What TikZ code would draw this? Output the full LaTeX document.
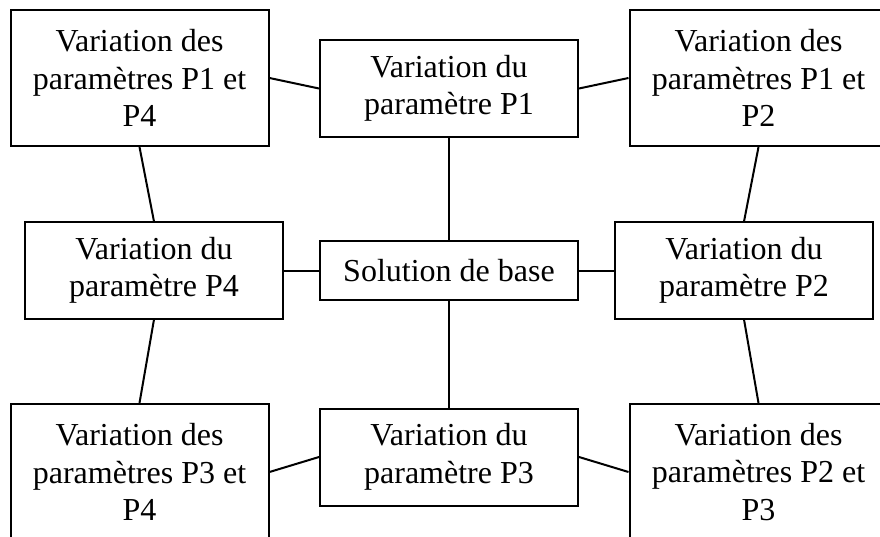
\documentclass[tikz,border=0pt]{standalone}
\usepackage{fontspec}
\setmainfont{Liberation Serif}
\usetikzlibrary{
		calc,
		positioning
	}
\tikzset{
		boite/.style={draw, rectangle, line width=2pt, inner sep=0pt, align=center,
			minimum width=258pt, font=\fontsize{32}{37.5}\selectfont},
		lien/.style={line width=2pt}
	}

\begin{document}
\begin{tikzpicture}[x=1pt, y=-1pt]
		\clip (0,0) rectangle (880,537);
		% solution de base au centre
		\node[boite, minimum height=59pt] (base) at (449,270.5) {Solution de base};
		% un seul parametre
		\node[boite, minimum height=97pt] (p1) at (449,88.5) {Variation du\\paramètre P1};
		\node[boite, minimum height=96pt] (p2) at (744,270.5) {Variation du\\paramètre P2};
		\node[boite, minimum height=97pt] (p3) at (449,457) {Variation du\\paramètre P3};
		\node[boite, minimum height=96pt] (p4) at (154,270.5) {Variation du\\paramètre P4};
		% deux parametres, dans les coins
		\node[boite, minimum height=136pt] (p14) at (139.5,78) {Variation des\\paramètres P1 et\\P4};
		\node[boite, minimum height=136pt] (p12) at (758.5,78) {Variation des\\paramètres P1 et\\P2};
		\node[boite, minimum height=136pt] (p34) at (139.5,472) {Variation des\\paramètres P3 et\\P4};
		\node[boite, minimum height=136pt] (p23) at (758.5,472) {Variation des\\paramètres P2 et\\P3};
		% liens
		\draw[lien] (base.north) -- (p1.south);
		\draw[lien] (base.east) -- (p2.west);
		\draw[lien] (base.south) -- (p3.north);
		\draw[lien] (base.west) -- (p4.east);
		\draw[lien] (p14.east) -- (p1.west); \draw[lien] (p1.east) -- (p12.west);
		\draw[lien] (p12.south) -- (p2.north); \draw[lien] (p2.south) -- (p23.north);
		\draw[lien] (p3.east) -- (p23.west); \draw[lien] (p34.east) -- (p3.west);
		\draw[lien] (p14.south) -- (p4.north); \draw[lien] (p4.south) -- (p34.north);
	\end{tikzpicture}
\end{document}
